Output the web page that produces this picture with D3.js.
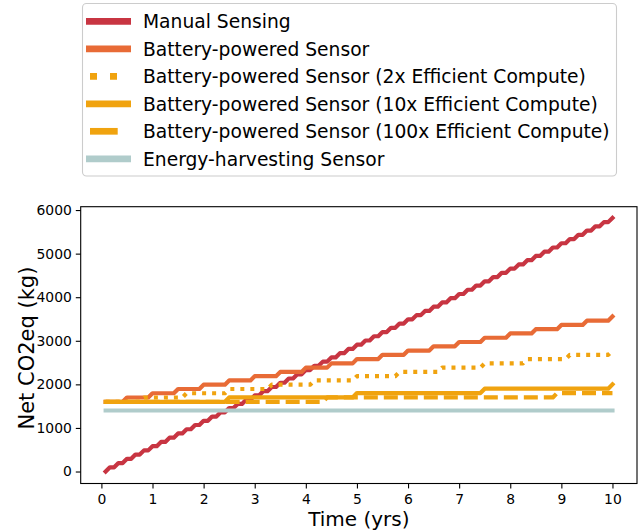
<!DOCTYPE html>
<html>
<head>
<meta charset="utf-8">
<script src="https://cdn.jsdelivr.net/npm/d3@7"></script>
<style>
  html, body { margin: 0; padding: 0; background: #fff; }
  svg { display: block; font-family: "DejaVu Sans", sans-serif; }
</style>
</head>
<body>
<svg id="chart" width="641" height="531"></svg>
<script>
// ---------------- data ----------------
const seriesNames = [
  "Manual Sensing",
  "Battery-powered Sensor",
  "Battery-powered Sensor (2x Efficient Compute)",
  "Battery-powered Sensor (10x Efficient Compute)",
  "Battery-powered Sensor (100x Efficient Compute)",
  "Energy-harvesting Sensor"
];
const months = d3.range(1, 121); // monthly time steps (month 1 .. 120)

// Manual sensing: monthly values (kg CO2eq)
const manualValues = [0,
  97,97,194,194,291,291,388,388,485,485,582,582,679,679,776,776,873,873,970,970,
  1067,1067,1164,1164,1261,1261,1358,1358,1455,1455,1552,1552,1649,1649,1746,1746,1843,1843,1940,1940,
  2037,2037,2134,2134,2231,2231,2328,2328,2425,2425,2522,2522,2619,2619,2716,2716,2813,2813,2910,2910,
  3007,3007,3104,3104,3201,3201,3298,3298,3395,3395,3492,3492,3589,3589,3686,3686,3783,3783,3880,3880,
  3977,3977,4074,4074,4171,4171,4268,4268,4365,4365,4462,4462,4559,4559,4656,4656,4753,4753,4850,4850,
  4947,4947,5044,5044,5141,5141,5238,5238,5335,5335,5432,5432,5529,5529,5626,5626,5723,5723,5820];

// Step series: levels and the months at which each new level is reached
const batteryStepMonths = [6,12,18,24,30,36,42,48,54,60,66,72,78,84,90,96,102,108,114,120];
const batteryLevels = [1600,1698,1796,1894,1992,2090,2188,2286,2384,2482,2580,2678,2776,2874,2972,3070,3168,3266,3364,3462,3560];

const eff2xStepMonths = [10,20,30,40,50,60,70,80,90,100,110,120];
const eff2xLevels = [1600,1698,1796,1894,1992,2090,2188,2286,2384,2482,2580,2678,2776];

const eff10xStepMonths = [30,60,90,120];
const eff10xLevels = [1600,1700,1800,1900,2000];

const eff100xStepMonths = [53,107];
const eff100xLevels = [1600,1700,1800];

const harvestStepMonths = [];
const harvestLevels = [1400];

const xTicks = [0,1,2,3,4,5,6,7,8,9,10];
const yTicks = [0,1000,2000,3000,4000,5000,6000];

// ---------------- layout / style ----------------
const colors = ["#c83542", "#e86b36", "#f0a30f", "#f0a30f", "#f0a30f", "#b0cccb"];
const plotDash = [null, null, "4 6", null, "14 6", null];
const pLeft = 80.7, pRight = 637, pTop = 206.7, pBottom = 483.5;

const svg = d3.select("#chart");
const x = d3.scaleLinear().domain([-0.405, 10.48]).range([pLeft, pRight]);
const y = d3.scaleLinear().domain([-275, 6077]).range([pBottom, pTop]);

function stepPoints(stepMonths, levels, firstMonth, lastMonth) {
  const pts = [[firstMonth, levels[0]]];
  stepMonths.forEach((s, i) => {
    pts.push([s - 1, levels[i]]);
    pts.push([s, levels[i + 1]]);
  });
  const lastM = stepMonths.length ? stepMonths[stepMonths.length - 1] : firstMonth;
  if (lastM < lastMonth) pts.push([lastMonth, levels[levels.length - 1]]);
  return pts;
}

const firstMonth = months[0], lastMonth = months[months.length - 1];
const seriesPoints = [
  months.map((m, i) => [m, manualValues[i]]),
  stepPoints(batteryStepMonths, batteryLevels, firstMonth, lastMonth),
  stepPoints(eff2xStepMonths, eff2xLevels, firstMonth, lastMonth),
  stepPoints(eff10xStepMonths, eff10xLevels, firstMonth, lastMonth),
  stepPoints(eff100xStepMonths, eff100xLevels, firstMonth, lastMonth),
  stepPoints(harvestStepMonths, harvestLevels, firstMonth, lastMonth)
];

const line = d3.line().x(d => x(d[0] / 12)).y(d => y(d[1]));

svg.append("defs").append("clipPath").attr("id", "clip")
  .append("rect").attr("x", pLeft).attr("y", pTop)
  .attr("width", pRight - pLeft).attr("height", pBottom - pTop);

const g = svg.append("g").attr("clip-path", "url(#clip)");
seriesPoints.forEach((pts, i) => {
  g.append("path")
    .attr("d", line(pts))
    .attr("fill", "none")
    .attr("stroke", colors[i])
    .attr("stroke-width", 4.2)
    .attr("stroke-linejoin", "round")
    .attr("stroke-linecap", plotDash[i] ? "butt" : "square")
    .attr("stroke-dasharray", plotDash[i]);
});

// axes
const xAxis = d3.axisBottom(x).tickValues(xTicks).tickSize(4.9).tickPadding(4).tickFormat(d3.format("d"));
const yAxis = d3.axisLeft(y).tickValues(yTicks).tickSize(4.9).tickPadding(4).tickFormat(d3.format("d"));

const gx = svg.append("g").attr("transform", `translate(0,${pBottom})`).call(xAxis);
const gy = svg.append("g").attr("transform", `translate(${pLeft},0)`).call(yAxis);
[gx, gy].forEach(a => {
  a.select(".domain").remove();
  a.selectAll(".tick line").attr("stroke", "#000").attr("stroke-width", 1.1);
  a.selectAll(".tick text").attr("fill", "#000").attr("font-size", 13.9)
    .attr("font-family", "DejaVu Sans, sans-serif");
});
gx.selectAll(".tick text").attr("dy", null).attr("y", 20.5);

// frame
svg.append("rect").attr("x", pLeft).attr("y", pTop)
  .attr("width", pRight - pLeft).attr("height", pBottom - pTop)
  .attr("fill", "none").attr("stroke", "#000").attr("stroke-width", 1.1);

// axis labels
svg.append("text").attr("x", (pLeft + pRight) / 2).attr("y", 526)
  .attr("text-anchor", "middle").attr("font-size", 20).attr("fill", "#000")
  .text("Time (yrs)");
svg.append("text")
  .attr("transform", `translate(34,${(pTop + pBottom) / 2 + 3}) rotate(-90)`)
  .attr("text-anchor", "middle").attr("font-size", 21).attr("fill", "#000")
  .text("Net CO2eq (kg)");

// legend
const legend = svg.append("g");
legend.append("rect").attr("x", 82.5).attr("y", 3.5).attr("width", 534).attr("height", 172.5)
  .attr("rx", 4).attr("fill", "#fff").attr("fill-opacity", 0.8)
  .attr("stroke", "#cccccc").attr("stroke-width", 1.1);
const legendDash = [null, null, "7 13", null, "27.7 14", null];
const legendOffset = [0, 0, 16, 0, 37.7, 0];
seriesNames.forEach((name, i) => {
  const cy = 21.3 + i * 27.5;
  legend.append("line")
    .attr("x1", 86).attr("x2", legendDash[i] ? 130 : 131)
    .attr("y1", cy).attr("y2", cy)
    .attr("stroke", colors[i]).attr("stroke-width", 6.7)
    .attr("stroke-dasharray", legendDash[i])
    .attr("stroke-dashoffset", legendOffset[i]);
  legend.append("text").attr("x", 143).attr("y", cy).attr("dy", "0.36em")
    .attr("font-size", 18.7).attr("fill", "#000").text(name);
});
</script>
</body>
</html>
